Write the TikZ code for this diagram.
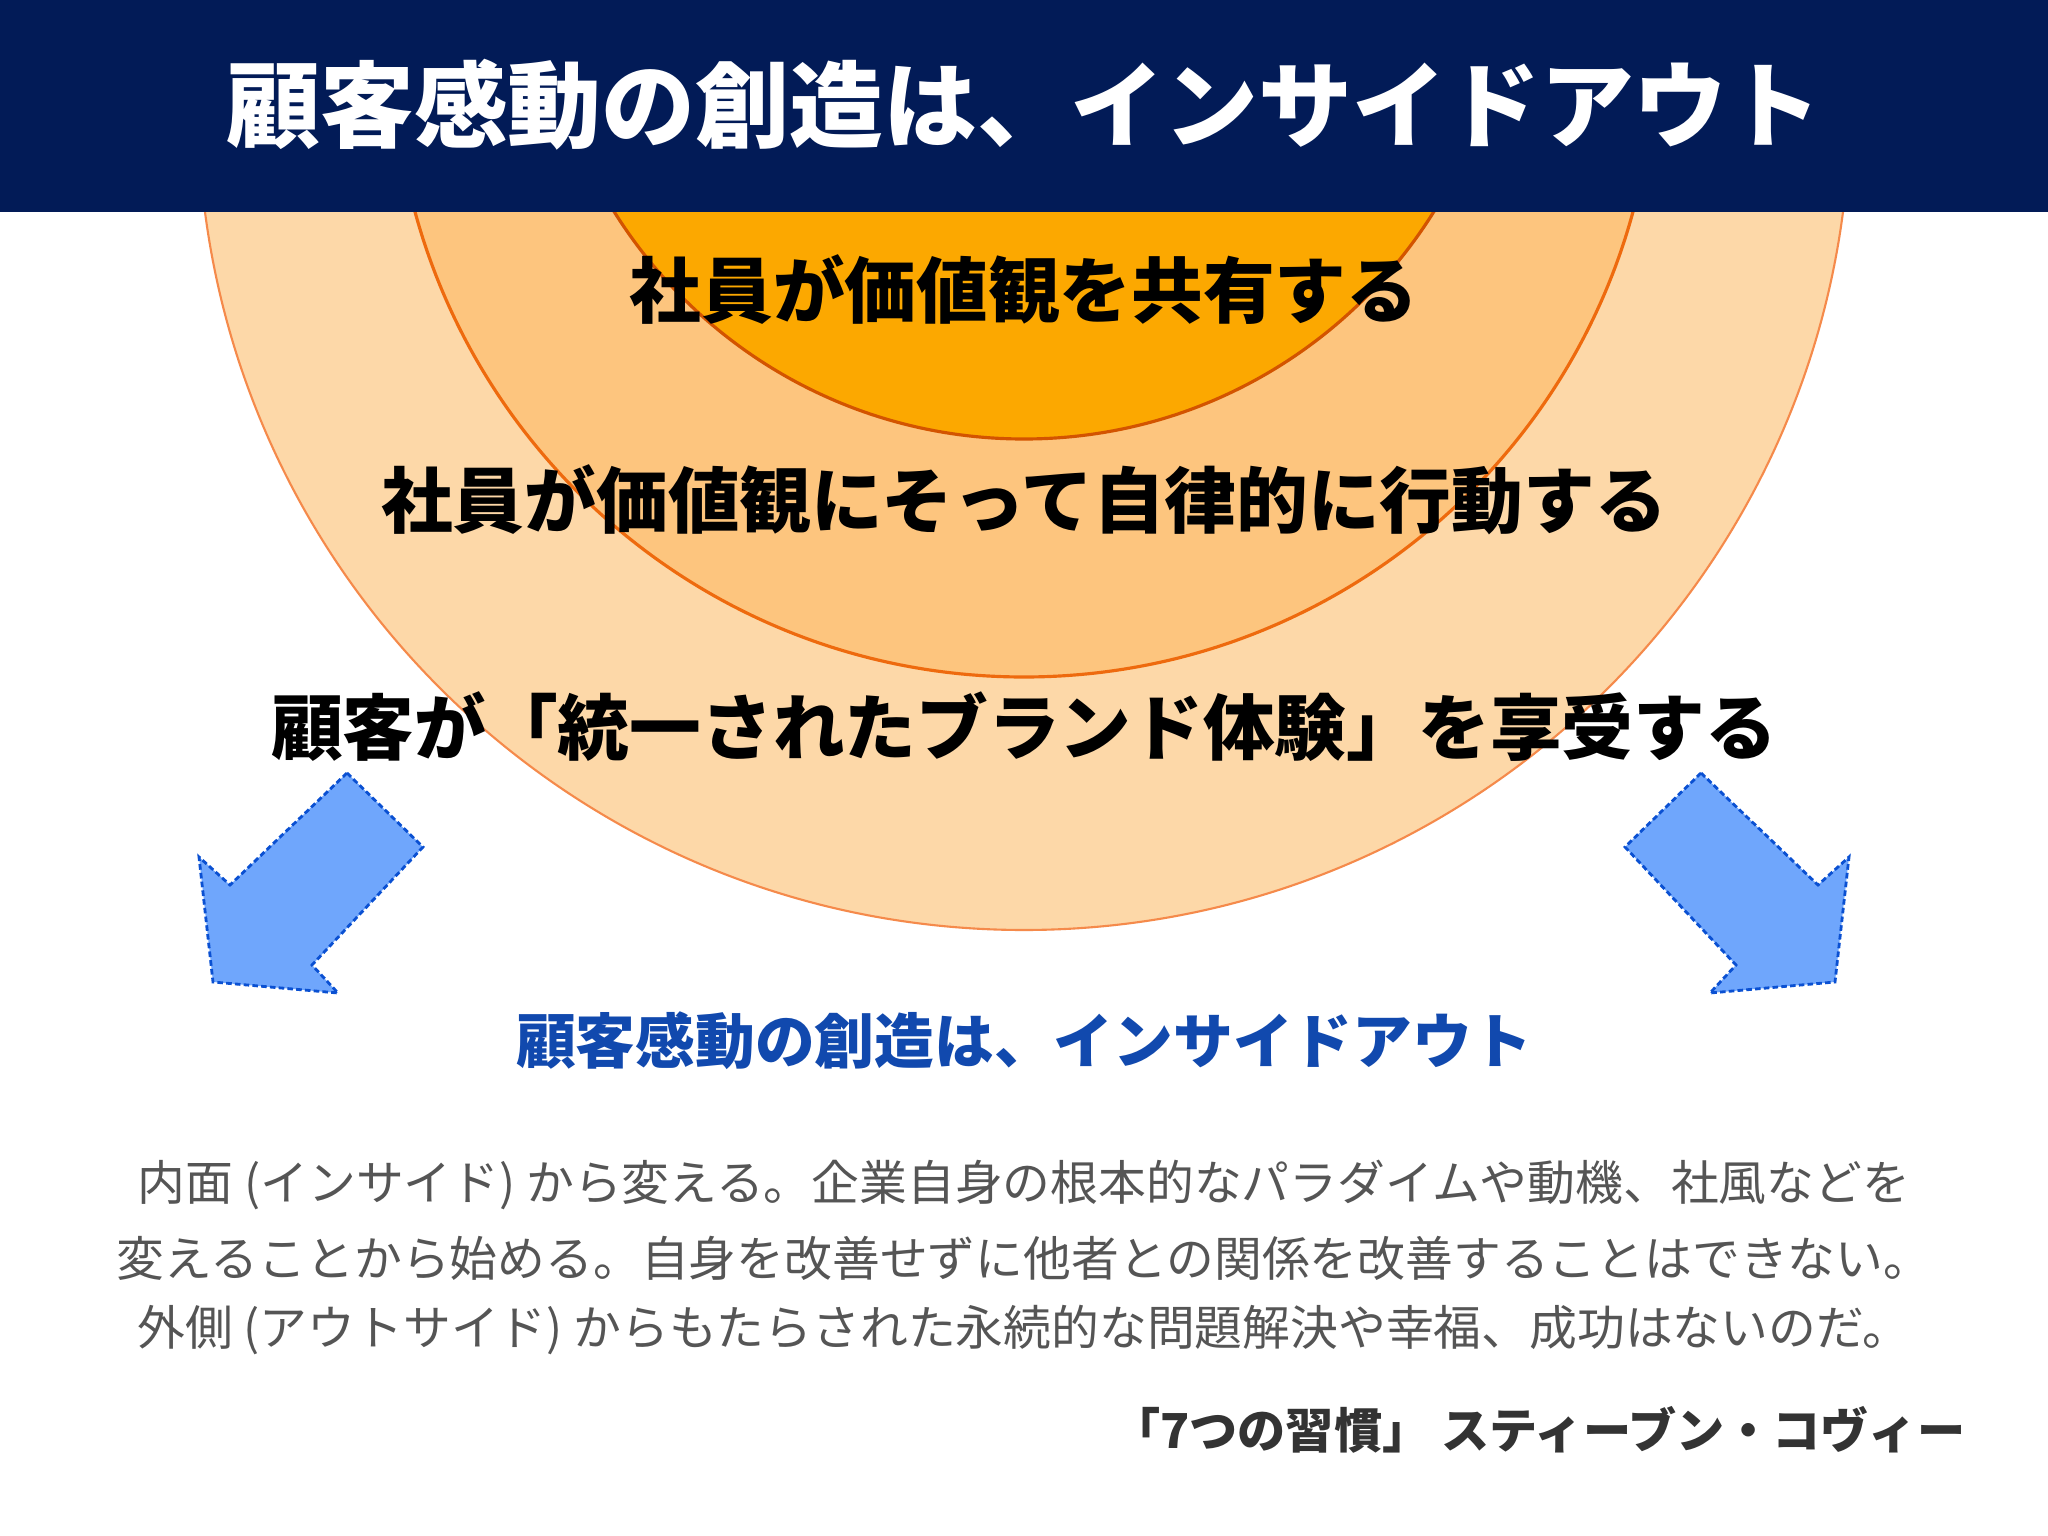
\documentclass[tikz,border=0pt]{standalone}
\usepackage{fontspec}
\setmainfont{Noto Sans CJK JP}
\usetikzlibrary{positioning}

\definecolor{navy}{HTML}{021B57}
\definecolor{outerfill}{HTML}{FDD8A8}
\definecolor{outerline}{HTML}{F58A4B}
\definecolor{midfill}{HTML}{FDC57E}
\definecolor{midline}{HTML}{EE6A0E}
\definecolor{corefill}{HTML}{FCA800}
\definecolor{coreline}{HTML}{D35400}
\definecolor{arrowfill}{HTML}{6FA6FC}
\definecolor{arrowline}{HTML}{0A50D2}
\definecolor{subblue}{HTML}{1149AE}
\definecolor{bodygray}{HTML}{555555}
\definecolor{creditgray}{HTML}{333333}

\tikzset{
  ringtext/.style={font=\bfseries\fontsize{20.4}{24}\selectfont, text=black, inner sep=0pt},
  bodytext/.style={font=\fontsize{13.6}{16}\selectfont, text=bodygray, inner sep=0pt},
  bluearrow/.style={fill=arrowfill, draw=arrowline, line width=0.8pt,
    dash pattern=on 1.6pt off 0.9pt, line join=miter}
}

\begin{document}
\begin{tikzpicture}

  \newcommand\Cx{10.24};

  \useasboundingbox (0,0) rectangle (20.48,-15.36);
  \fill[white] (0,0) rectangle (20.48,-15.36);

  %% the three rings
  \begin{scope}
    \clip (0,0) rectangle (20.48,-15.36);
    \draw[fill=outerfill, draw=outerline, line width=0.6pt] (\Cx,-1.04) circle (8.26);
    \draw[fill=midfill, draw=midline, line width=0.9pt] (\Cx,-0.46) circle (6.31);
    \draw[fill=corefill, draw=coreline, line width=0.9pt] (\Cx,0.44) circle (4.83);
  \end{scope}

  %% header band
  \fill[navy] (0,0) rectangle (20.48,-2.12);
  \node[font=\bfseries\fontsize{26.7}{30}\selectfont, text=white, inner sep=0pt] (title) at (\Cx,-1.05) {顧客感動の創造は、インサイドアウト};

  \node[ringtext] (share) at (\Cx,-2.90) {社員が価値観を共有する};
  \node[ringtext] (act) at (\Cx,-5.00) {社員が価値観にそって自律的に行動する};
  \node[ringtext] (brand) at (\Cx,-7.27) {顧客が「統一されたブランド体験」を享受する};

  %% arrows, left one mirrored to the right
  \foreach \s in {1,-1}
    \draw[bluearrow, shift={(\Cx,0)}, xscale=\s]
      (-6.77,-7.73) -- (-6.01,-8.47) -- (-7.12,-9.65) -- (-6.86,-9.93)
      -- (-8.11,-9.82) -- (-8.25,-8.57) -- (-7.94,-8.85) -- cycle;

  \node[font=\bfseries\fontsize{17}{20}\selectfont, text=subblue, inner sep=0pt] (subtitle) at (\Cx,-10.41) {顧客感動の創造は、インサイドアウト};

  \node[bodytext] (quote1) at (\Cx,-11.85) {内面 (インサイド) から変える。企業自身の根本的なパラダイムや動機、社風などを};
  \node[bodytext] (quote2) at (\Cx,-12.58) {変えることから始める。自身を改善せずに他者との関係を改善することはできない。};
  \node[bodytext] (quote3) at (\Cx,-13.30) {外側 (アウトサイド) からもたらされた永続的な問題解決や幸福、成功はないのだ。};

  \node[font=\bfseries\fontsize{13.7}{16}\selectfont, text=creditgray, inner sep=0pt, anchor=east] (credit) at (19.66,-14.30) {「7つの習慣」 スティーブン・コヴィー};
\end{tikzpicture}
\end{document}
